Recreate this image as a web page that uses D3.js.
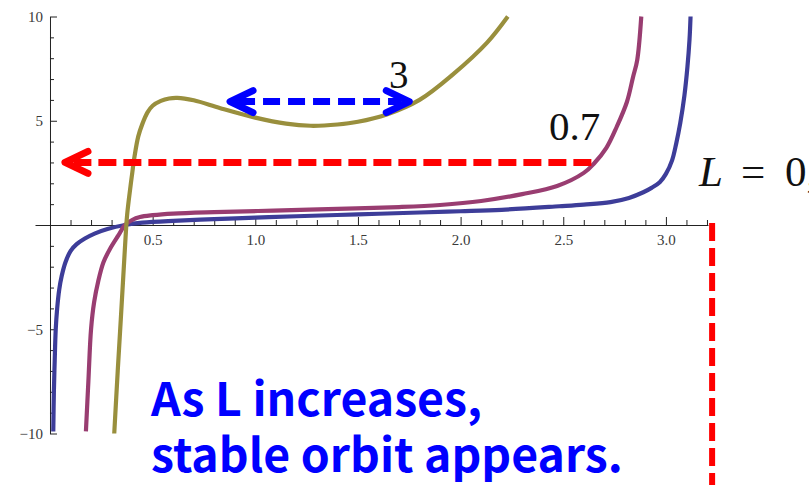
<!DOCTYPE html>
<html>
<head>
<meta charset="utf-8">
<script src="https://cdn.jsdelivr.net/npm/d3@7/dist/d3.min.js"></script>
<style>
  html, body { margin: 0; padding: 0; background: #fff; }
  svg { display: block; }
</style>
</head>
<body>
<svg id="chart" width="809" height="485"></svg>
<script>
// ---- data ----
const seriesNames = ["L = 0", "0.7", "3"];
const seriesL0 = [
  [0.016,-9.9],[0.019,-8.0],[0.023,-6.5],[0.028,-5.0],[0.035,-4.0],[0.045,-3.1],
  [0.057,-2.45],[0.075,-1.8],[0.100,-1.25],[0.130,-0.92],[0.170,-0.65],[0.220,-0.40],
  [0.280,-0.19],[0.365,0.0],
  [0.450,0.11],[0.600,0.20],[0.800,0.28],[1.000,0.35],[1.200,0.42],[1.500,0.51],
  [1.800,0.60],[2.000,0.66],[2.200,0.73],[2.480,0.90],[2.600,0.98],[2.730,1.10],
  [2.820,1.30],[2.890,1.57],[2.930,1.78],[2.970,2.05],[3.000,2.45],[3.030,3.10],
  [3.050,3.90],[3.070,4.90],[3.090,6.20],[3.105,7.60],[3.115,8.90],[3.120,10.0]
];
const seriesL07 = [
  [0.175,-9.9],[0.187,-7.5],[0.200,-5.0],[0.215,-3.7],[0.235,-2.7],[0.260,-1.8],
  [0.292,-1.15],[0.333,-0.50],[0.365,0.0],[0.400,0.24],[0.438,0.38],[0.500,0.47],
  [0.600,0.55],[0.800,0.62],[1.090,0.69],[1.400,0.77],[1.700,0.86],[1.900,0.96],
  [2.100,1.15],[2.300,1.48],[2.470,1.87],[2.600,2.50],[2.650,2.95],[2.710,3.70],
  [2.760,4.70],[2.810,5.90],[2.840,7.10],[2.860,7.90],[2.880,10.0]
];
const seriesL3 = [
  [0.313,-10.0],[0.330,-7.0],[0.345,-4.5],[0.358,-2.3],[0.368,-0.6],[0.375,0.4],
  [0.385,1.3],[0.398,2.3],[0.412,3.3],[0.430,4.25],[0.450,4.85],[0.475,5.40],
  [0.500,5.72],[0.540,5.95],[0.580,6.07],[0.620,6.10],[0.700,5.98],[0.830,5.60],[1.000,5.15],
  [1.150,4.86],[1.270,4.76],[1.400,4.82],[1.500,4.95],[1.640,5.30],[1.800,6.00],
  [1.960,7.20],[2.130,8.76],[2.230,10.0]
];
const xTickLabels = [0.5, 1.0, 1.5, 2.0, 2.5, 3.0];
const xMinorTicks = d3.range(1, 33).map(i => i / 10).filter(v => Math.abs(v * 2 - Math.round(v * 2)) > 1e-9);
const yTickLabels = [-10, -5, 5, 10];
const yMinorTicks = [-9,-8,-7,-6,-4,-3,-2,-1,1,2,3,4,6,7,8,9];
const turningArrow = { y: 3.0, x0: 2.637, x1: 0.073 };       // red arrow
const wellArrow = { y: 5.92, x0: 0.877, x1: 1.75 };          // blue double arrow
const limitLine = { x: 3.225, y0: 0.1 };                     // red vertical dashed
const caption = ["As L increases,", "stable orbit appears."];

// ---- layout ----
const W = 809, H = 485;
const svg = d3.select("#chart");
const x = d3.scaleLinear().domain([-0.073, 3.205]).range([35, 708]);
const y = d3.scaleLinear().domain([-10, 10]).range([433.5, 16.5]);
const colors = ["#3d3d99", "#993d71", "#998f3d"];
const tickFont = "'Liberation Serif', 'Times New Roman', serif";

// axes
const axisColor = "#222";
const gx = svg.append("g").attr("transform", `translate(0,${y(0)})`)
  .call(d3.axisBottom(x).tickValues(xTickLabels).tickFormat(d3.format(".1f"))
        .tickSizeInner(-8).tickSizeOuter(0).tickPadding(6));
const gxm = svg.append("g").attr("transform", `translate(0,${y(0)})`)
  .call(d3.axisBottom(x).tickValues(xMinorTicks).tickFormat("")
        .tickSizeInner(-5).tickSizeOuter(0));
gxm.select(".domain").remove();

const gy = svg.append("g").attr("transform", `translate(${x(0)},0)`)
  .call(d3.axisLeft(y).tickValues(yTickLabels).tickFormat(d3.format("d"))
        .tickSizeInner(-7).tickSizeOuter(0).tickPadding(7));
const gym = svg.append("g").attr("transform", `translate(${x(0)},0)`)
  .call(d3.axisLeft(y).tickValues(yMinorTicks).tickFormat("")
        .tickSizeInner(-4).tickSizeOuter(0));
gym.select(".domain").remove();

svg.selectAll(".domain, .tick line").attr("stroke", axisColor).attr("stroke-width", 1);
svg.selectAll(".tick text").attr("font-family", tickFont).attr("font-size", 15)
  .attr("fill", "#3a3a3a");
gx.selectAll(".tick text").attr("dy", "0.9em");

// clip
svg.append("clipPath").attr("id", "plotclip").append("rect")
  .attr("x", 35).attr("y", y(10) - 2).attr("width", 708 - 35).attr("height", y(-10) - y(10) + 4);

const line = d3.line().x(d => x(d[0])).y(d => y(d[1])).curve(d3.curveCatmullRom.alpha(0.5));
const curves = svg.append("g").attr("clip-path", "url(#plotclip)");
[seriesL0, seriesL07, seriesL3].forEach((s, i) => {
  curves.append("path").datum(s).attr("d", line)
    .attr("fill", "none").attr("stroke", colors[i]).attr("stroke-width", 4.2)
    .attr("stroke-linejoin", "round");
});

// series labels
const labelFont = "'Liberation Serif', 'Times New Roman', serif";
svg.append("text").attr("x", 389).attr("y", 88).text(seriesNames[2])
  .attr("font-family", labelFont).attr("font-size", 39).attr("fill", "#111");
svg.append("text").attr("x", 549).attr("y", 140).text(seriesNames[1])
  .attr("font-family", labelFont).attr("font-size", 41).attr("fill", "#111");
const lt = svg.append("text").attr("y", 186).attr("font-family", labelFont)
  .attr("font-size", 43).attr("fill", "#111");
lt.append("tspan").attr("x", 699).attr("font-style", "italic").text("L");
lt.append("tspan").attr("x", 741).text("=");
lt.append("tspan").attr("x", 785).text("0,");

// arrows
function chevron(g, tx, ty, dir, color) {
  g.append("path")
    .attr("d", `M${tx - dir * 23},${ty - 11}L${tx},${ty}L${tx - dir * 23},${ty + 11}`)
    .attr("fill", "none").attr("stroke", color).attr("stroke-width", 7)
    .attr("stroke-linecap", "round").attr("stroke-linejoin", "round");
}
const ann = svg.append("g");
// red horizontal arrow
ann.append("line")
  .attr("x1", x(turningArrow.x0)).attr("y1", y(turningArrow.y))
  .attr("x2", x(turningArrow.x1) + 8).attr("y2", y(turningArrow.y))
  .attr("stroke", "#ff0000").attr("stroke-width", 7).attr("stroke-dasharray", "18 7");
chevron(ann, x(turningArrow.x1), y(turningArrow.y), -1, "#ff0000");

// blue double arrow
ann.append("line")
  .attr("x1", x(wellArrow.x0) + 8).attr("y1", y(wellArrow.y))
  .attr("x2", x(wellArrow.x1) - 8).attr("y2", y(wellArrow.y))
  .attr("stroke", "#0000ff").attr("stroke-width", 7).attr("stroke-dasharray", "17 8");
chevron(ann, x(wellArrow.x0), y(wellArrow.y), -1, "#0000ff");
chevron(ann, x(wellArrow.x1), y(wellArrow.y), 1, "#0000ff");

// red vertical dashed line
ann.append("line")
  .attr("x1", x(limitLine.x)).attr("y1", y(limitLine.y0))
  .attr("x2", x(limitLine.x)).attr("y2", H)
  .attr("stroke", "#ff0000").attr("stroke-width", 6).attr("stroke-dasharray", "18 7");

// caption
const capFont = "'Noto Sans CJK KR', 'Noto Sans', sans-serif";
const c1 = svg.append("text").attr("x", 151).attr("y", 416).text(caption[0]);
const c2 = svg.append("text").attr("x", 151).attr("y", 472).text(caption[1]);
[c1, c2].forEach(t => t.attr("font-family", capFont).attr("font-weight", 700)
  .attr("font-size", 40).attr("fill", "#0000ff"));
// fit second line width to the reference
const w2 = c2.node().getComputedTextLength();
const fs = 40 * 472 / w2;
[c1, c2].forEach(t => t.attr("font-size", fs));
</script>
</body>
</html>
